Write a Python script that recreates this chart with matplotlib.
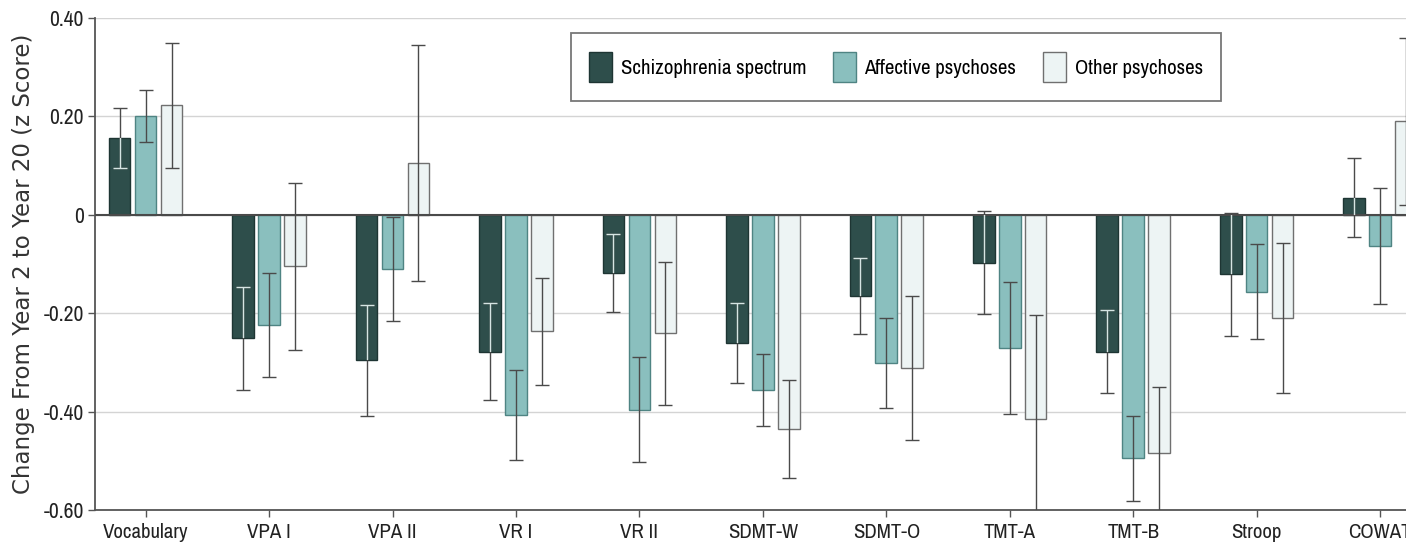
import matplotlib
matplotlib.use("Agg")
import matplotlib.pyplot as plt
from matplotlib import font_manager
import numpy as np

categories = ["Vocabulary", "VPA I", "VPA II", "VR I", "VR II", "SDMT-W",
              "SDMT-O", "TMT-A", "TMT-B", "Stroop", "COWAT"]

schiz = [0.157, -0.251, -0.296, -0.278, -0.119, -0.261, -0.165, -0.097, -0.278, -0.121, 0.035]
schiz_err = [0.061, 0.105, 0.112, 0.098, 0.079, 0.081, 0.077, 0.104, 0.084, 0.125, 0.080]

affective = [0.201, -0.224, -0.110, -0.407, -0.396, -0.356, -0.301, -0.271, -0.495, -0.156, -0.064]
affective_err = [0.053, 0.106, 0.106, 0.092, 0.107, 0.074, 0.092, 0.134, 0.087, 0.097, 0.118]

other = [0.223, -0.105, 0.105, -0.237, -0.241, -0.435, -0.311, -0.416, -0.485, -0.210, 0.190]
other_err = [0.127, 0.170, 0.240, 0.108, 0.145, 0.100, 0.146, 0.213, 0.134, 0.153, 0.170]

yticks = [0.4, 0.2, 0, -0.2, -0.4, -0.6]
ytick_labels = ["0.40", "0.20", "0", "-0.20", "-0.40", "-0.60"]


# find a narrow sans font if one is installed
def pick_narrow():
    fl = font_manager.fontManager.ttflist
    for f in fl:
        if ("Narrow" in f.name or "Condensed" in f.name) and f.style == "normal":
            return f.name, "normal"
    for pref in ["Open Sans", "Noto Sans", "Roboto", "DejaVu Sans", "Lato"]:
        for f in fl:
            if f.name == pref and f.stretch in ("condensed", "semi-condensed") and f.style == "normal":
                return pref, f.stretch
    return "DejaVu Sans", "normal"


narrow_name, narrow_stretch = pick_narrow()
narrow = [narrow_name, "DejaVu Sans"]

fig = plt.figure(figsize=(14.06, 5.54), dpi=100)
ax = fig.add_axes([95 / 1406, 44 / 554, 1311 / 1406, 492 / 554])

x = np.arange(len(categories))
w = 0.175
step = 0.21

series = [
    (schiz, schiz_err, "#2e4e4b", "#1e3533", "Schizophrenia spectrum"),
    (affective, affective_err, "#8abfbe", "#4f8483", "Affective psychoses"),
    (other, other_err, "#edf4f4", "#707070", "Other psychoses"),
]

for i, (vals, errs, fc, ec, lab) in enumerate(series):
    pos = x + (i - 1) * step
    bars = ax.bar(pos, vals, width=w, color=fc, edgecolor=ec, linewidth=1.0,
                  label=lab, zorder=3)
    ax.errorbar(pos, vals, yerr=errs, fmt="none", ecolor="#4a4a4a",
                elinewidth=1.0, capsize=5, capthick=1.0, zorder=4)
    if i == 0:
        # lighter error lines where they cross the dark bars
        for b, p, v, e in zip(bars, pos, vals, errs):
            eb = ax.errorbar([p], [v], yerr=[e], fmt="none", ecolor="#d5e5e3",
                             elinewidth=1.0, capsize=5, capthick=1.0, zorder=5)
            for art in list(eb.lines[1]) + list(eb.lines[2]):
                art.set_clip_path(b)

ax.set_ylim(-0.6, 0.4)
ax.set_xlim(-0.41, 10.21)
ax.set_yticks(yticks)
ax.set_yticklabels(ytick_labels, family=narrow, stretch=narrow_stretch,
                   fontsize=15.5, color="#222222")
ax.set_xticks(x)
ax.set_xticklabels(categories, family=narrow, stretch=narrow_stretch,
                   fontsize=15, color="#222222")
ax.tick_params(axis="x", length=5, width=1, color="#555555", pad=4)
ax.tick_params(axis="y", length=5, width=1, color="#555555", pad=3)

ax.yaxis.grid(True, color="#d4d4d4", linewidth=1.0, zorder=0)
ax.set_axisbelow(True)
ax.axhline(0, color="#4a4a4a", linewidth=1.5, zorder=3.5)

for s in ["top", "right"]:
    ax.spines[s].set_visible(False)
for s in ["left", "bottom"]:
    ax.spines[s].set_color("#555555")
    ax.spines[s].set_linewidth(1.3)

ax.set_ylabel("Change From Year 2 to Year 20 (z Score)", fontsize=16.5,
              color="#333333", labelpad=6)

leg = ax.legend(loc="upper center", bbox_to_anchor=(0.611, 0.97), ncol=3,
                prop={"family": narrow, "size": 15, "stretch": narrow_stretch},
                frameon=True, fancybox=False, borderaxespad=0,
                edgecolor="#555555", handlelength=1.1, handleheight=1.9,
                columnspacing=1.3, handletextpad=0.4, borderpad=0.9)
leg.get_frame().set_linewidth(1.3)

fig.savefig("out.png", dpi=100)
